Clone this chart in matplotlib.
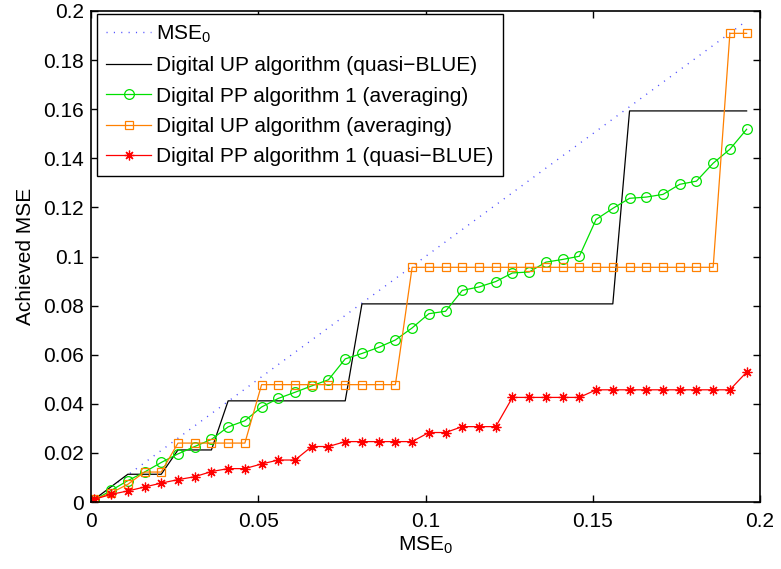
import numpy as np
import matplotlib
matplotlib.use('Agg')
import matplotlib.pyplot as plt

plt.rcParams['font.family'] = ['Liberation Sans', 'DejaVu Sans']
plt.rcParams['mathtext.fontset'] = 'custom'
plt.rcParams['mathtext.rm'] = 'Liberation Sans'
plt.rcParams['mathtext.it'] = 'Liberation Sans:italic'

# MSE_0 grid (40 points, step 0.005)
mse0 = np.arange(40) * 0.005 + 0.001

up_blue = [0.0011, 0.0062, 0.0113, 0.0113, 0.0113, 0.0212, 0.0212, 0.0212,
           0.0412, 0.0412, 0.0412, 0.0412, 0.0412, 0.0412, 0.0412, 0.0412,
           0.0807, 0.0807, 0.0807, 0.0807, 0.0807, 0.0807, 0.0807, 0.0807,
           0.0807, 0.0807, 0.0807, 0.0807, 0.0807, 0.0807, 0.0807, 0.0807,
           0.1593, 0.1593, 0.1593, 0.1593, 0.1593, 0.1593, 0.1593, 0.1593]

pp_avg = [0.0008, 0.0047, 0.0087, 0.0122, 0.0161, 0.0196, 0.0226, 0.0255,
          0.0306, 0.0331, 0.0387, 0.0422, 0.0447, 0.0473, 0.0498, 0.0583,
          0.0605, 0.0630, 0.0660, 0.0709, 0.0767, 0.0777, 0.0862, 0.0876,
          0.0898, 0.0933, 0.0937, 0.0977, 0.0988, 0.1001, 0.1151, 0.1196,
          0.1237, 0.1242, 0.1253, 0.1294, 0.1307, 0.1380, 0.1437, 0.1518]

up_avg = [0.0011, 0.0037, 0.0072, 0.0122, 0.0122, 0.0240, 0.0240, 0.0240,
          0.0240, 0.0240, 0.0478, 0.0478, 0.0478, 0.0478, 0.0478, 0.0478,
          0.0478, 0.0478, 0.0478, 0.0956, 0.0956, 0.0956, 0.0956, 0.0956,
          0.0956, 0.0956, 0.0956, 0.0956, 0.0956, 0.0956, 0.0956, 0.0956,
          0.0956, 0.0956, 0.0956, 0.0956, 0.0956, 0.0956, 0.1909, 0.1909]

pp_blue = [0.0011, 0.0031, 0.0045, 0.0061, 0.0077, 0.0091, 0.0103, 0.0124,
           0.0136, 0.0136, 0.0155, 0.0171, 0.0171, 0.0226, 0.0226, 0.0246,
           0.0246, 0.0246, 0.0246, 0.0246, 0.0283, 0.0283, 0.0307, 0.0307,
           0.0307, 0.0426, 0.0426, 0.0426, 0.0426, 0.0426, 0.0457, 0.0457,
           0.0457, 0.0457, 0.0457, 0.0457, 0.0457, 0.0457, 0.0457, 0.0529]

fig = plt.figure(figsize=(7.81, 5.69), dpi=100)
ax = fig.add_axes([91 / 781, 67 / 569, 669 / 781, 491 / 569])

ax.plot(mse0, mse0, color='#5050ff', lw=1.0, dashes=(0.8, 4.5),
        label='MSE$_0$')
ax.plot(mse0, up_blue, '-', color='black', lw=0.9,
        label='Digital UP algorithm (quasi\u2212BLUE)')
ax.plot(mse0, pp_avg, '-o', color='#00e000', lw=0.9, ms=7, mfc='none',
        mew=0.9, label='Digital PP algorithm 1 (averaging)')
ax.plot(mse0, up_avg, '-s', color='#ff8000', lw=0.9, ms=5.8, mfc='none',
        mew=0.9, label='Digital UP algorithm (averaging)')
ax.plot(mse0, pp_blue, '-', marker=(8, 2, 0), color='#ff0000', lw=0.9,
        ms=7, mew=0.9, label='Digital PP algorithm 1 (quasi\u2212BLUE)')

ax.set_xlim(0, 0.2)
ax.set_ylim(0, 0.2)
ax.set_xticks(np.arange(0, 0.201, 0.05))
ax.set_yticks(np.arange(0, 0.201, 0.02))
ax.xaxis.set_major_formatter(matplotlib.ticker.FormatStrFormatter('%g'))
ax.yaxis.set_major_formatter(matplotlib.ticker.FormatStrFormatter('%g'))
ax.tick_params(direction='in', length=5, width=1, top=True, right=True,
               labelsize=15, pad=5)
ax.tick_params(axis='x', pad=7)
for s in ax.spines.values():
    s.set_linewidth(1.2)

ax.set_xlabel('MSE$_0$', fontsize=15, labelpad=3)
ax.set_ylabel('Achieved MSE', fontsize=15, labelpad=6)

leg = ax.legend(loc='upper left', bbox_to_anchor=(0.009, 0.994),
                borderaxespad=0, fontsize=15, numpoints=1, fancybox=False,
                framealpha=1, edgecolor='black', handlelength=2.15,
                handletextpad=0.25, labelspacing=0.55, borderpad=0.45)
leg.get_frame().set_linewidth(1.0)

fig.savefig('out.png', dpi=100)
